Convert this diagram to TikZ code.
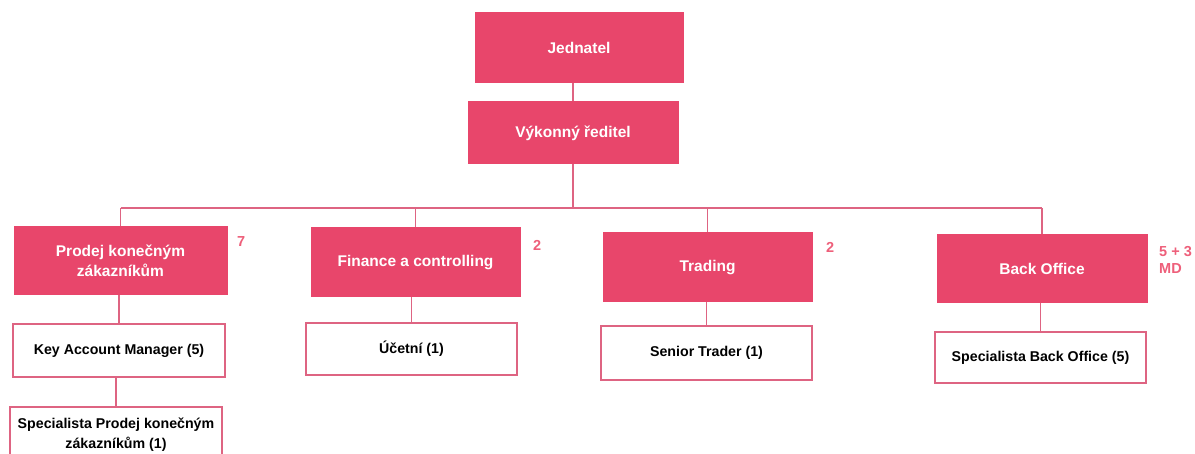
\documentclass[tikz,border=0pt]{standalone}
\usepackage{fontspec}
\setmainfont{Liberation Sans}
\definecolor{boxred}{RGB}{232,70,107}
\definecolor{linepink}{RGB}{222,100,130}
\definecolor{numred}{RGB}{238,95,122}
\begin{document}
\begin{tikzpicture}[x=1pt,y=-1pt,
  redbox/.style={draw=boxred,fill=boxred,line width=1pt,text=white,font=\fontsize{15.5}{20}\selectfont\bfseries,align=center,inner sep=0pt},
  whitebox/.style={draw=linepink,fill=white,line width=1.6pt,text=black,font=\fontsize{14.2}{20}\selectfont\bfseries,align=center,inner sep=0pt},
  conn/.style={draw=linepink,line width=1.2pt},
  num/.style={text=numred,font=\fontsize{14.5}{17}\selectfont\bfseries,align=left,anchor=north west,inner sep=0pt}]
\clip (0,0) rectangle (1195,454);
\fill[white] (0,0) rectangle (1195,454);
% top
\node[redbox,minimum width=208pt,minimum height=70pt] (jed) at (579,48) {Jednatel};
\node[redbox,minimum width=210pt,minimum height=62pt] (vyk) at (573,133) {Výkonný ředitel};
% departments
\node[redbox,minimum width=213pt,minimum height=68pt] (pro) at (120.5,261) {Prodej konečným\\zákazníkům};
\node[redbox,minimum width=209pt,minimum height=69pt] (fin) at (415.5,262.5) {Finance a controlling};
\node[redbox,minimum width=209pt,minimum height=69pt] (tra) at (707.5,267.5) {Trading};
\node[redbox,minimum width=210pt,minimum height=68pt] (bo) at (1042,269) {Back Office};
% sub
\node[whitebox,minimum width=212pt,minimum height=53pt] (kam) at (119,350.5) {Key Account Manager (5)};
\node[whitebox,minimum width=211pt,minimum height=52pt] (uce) at (411.5,349) {Účetní (1)};
\node[whitebox,minimum width=211pt,minimum height=54pt] (sen) at (706.5,353) {Senior Trader (1)};
\node[whitebox,minimum width=211pt,minimum height=51pt] (sbo) at (1040.5,357.5) {Specialista Back Office (5)};
\node[whitebox,minimum width=212pt,minimum height=56pt] (spr) at (116,435) {Specialista Prodej konečným\\zákazníkům (1)};
% numbers
\node[num] (n1) at (237,236) {7};
\node[num] (n2) at (533,240) {2};
\node[num] (n3) at (826,242) {2};
\node[num] (n4) at (1159,246) {5 + 3\\MD};
% connectors
\coordinate (bus) at (0,208);
\draw[conn] (vyk.north) -- (vyk.north |- jed.south);
\draw[conn] (vyk.south) -- (vyk.south |- bus);
\draw[conn] (pro.north |- bus) -- (bo.north |- bus);
\draw[conn] (pro.north) -- (pro.north |- bus);
\draw[conn] (fin.north) -- (fin.north |- bus);
\draw[conn] (tra.north) -- (tra.north |- bus);
\draw[conn] (bo.north) -- (bo.north |- bus);
\draw[conn] (kam.north) -- (kam.north |- pro.south);
\draw[conn] (uce.north) -- (uce.north |- fin.south);
\draw[conn] (sen.north) -- (sen.north |- tra.south);
\draw[conn] (sbo.north) -- (sbo.north |- bo.south);
\draw[conn] (spr.north) -- (spr.north |- kam.south);
\end{tikzpicture}
\end{document}
